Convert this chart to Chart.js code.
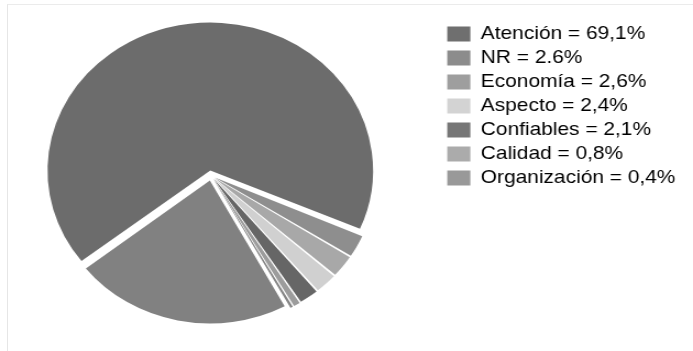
<!DOCTYPE html>
<html>
<head>
<meta charset="utf-8">
<script src="https://cdn.jsdelivr.net/npm/chart.js@4.4.0/dist/chart.umd.min.js"></script>
<style>
  html, body { margin: 0; padding: 0; background: #fff; overflow: hidden; }
  body { width: 693px; height: 351px; position: relative; }
  #frame { position: absolute; left: 7px; top: 4px; width: 700px; height: 360px;
           border-left: 1px solid #e6e6e6; border-top: 1px solid #ebebeb; }
  /* canvas is 670 wide; its left 40px sit off-page so the pie can sit left of the legend gap */
  #wrap { position: absolute; left: -44px; top: 0; width: 670px; height: 351px;
          transform: scaleX(1.1); transform-origin: 0 0; }
</style>
</head>
<body>
<div id="frame"></div>
<div id="wrap"><canvas id="c" width="670" height="351"></canvas></div>
<script>
// Categories and their shares (percent)
const categories = ['Atención', 'NR', 'Economía', 'Aspecto', 'Confiables', 'Calidad', 'Organización', 'Otros'];
const values = [69.1, 2.6, 2.6, 2.4, 2.1, 0.8, 0.4, 23];
// Value text as printed in the legend
const valueLabels = ['69,1%', '2.6%', '2,6%', '2,4%', '2,1%', '0,8%', '0,4%', ''];
// Which categories appear in the legend
const inLegend = [true, true, true, true, true, true, true, false];

// Styling
const sliceColors = ['#6c6c6c', '#8e8e8e', '#a8a8a8', '#d0d0d0', '#666666', '#9c9c9c', '#858585', '#818181'];
const legendColors = ['#6f6f6f', '#8c8c8c', '#9e9e9e', '#d3d3d3', '#767676', '#ababab', '#999999', '#818181'];
// Chart.js translates an arc by offset / 4 px
const sliceOffsets = [20, 16, 16, 16, 16, 16, 16, 20];

new Chart(document.getElementById('c'), {
  type: 'pie',
  data: {
    labels: categories,
    datasets: [{
      data: values,
      backgroundColor: sliceColors,
      borderWidth: 0,
      offset: sliceOffsets
    }]
  },
  options: {
    responsive: false,
    animation: false,
    devicePixelRatio: 1,
    rotation: 232,
    radius: 143,
    layout: { padding: { left: 22, right: 6, top: 19.5, bottom: 19.5 } },
    plugins: {
      tooltip: { enabled: false },
      legend: {
        position: 'right',
        align: 'start',
        labels: {
          boxWidth: 21,
          boxHeight: 15,
          padding: 5,
          color: '#111111',
          font: { family: "'Liberation Sans', Arial, sans-serif", size: 19 },
          generateLabels: (chart) => categories
            .map((name, i) => ({
              text: name + ' = ' + valueLabels[i],
              fillStyle: legendColors[i],
              strokeStyle: legendColors[i],
              lineWidth: 0,
              hidden: false,
              index: i
            }))
            .filter((item) => inLegend[item.index])
        }
      }
    }
  }
});
</script>
</body>
</html>
